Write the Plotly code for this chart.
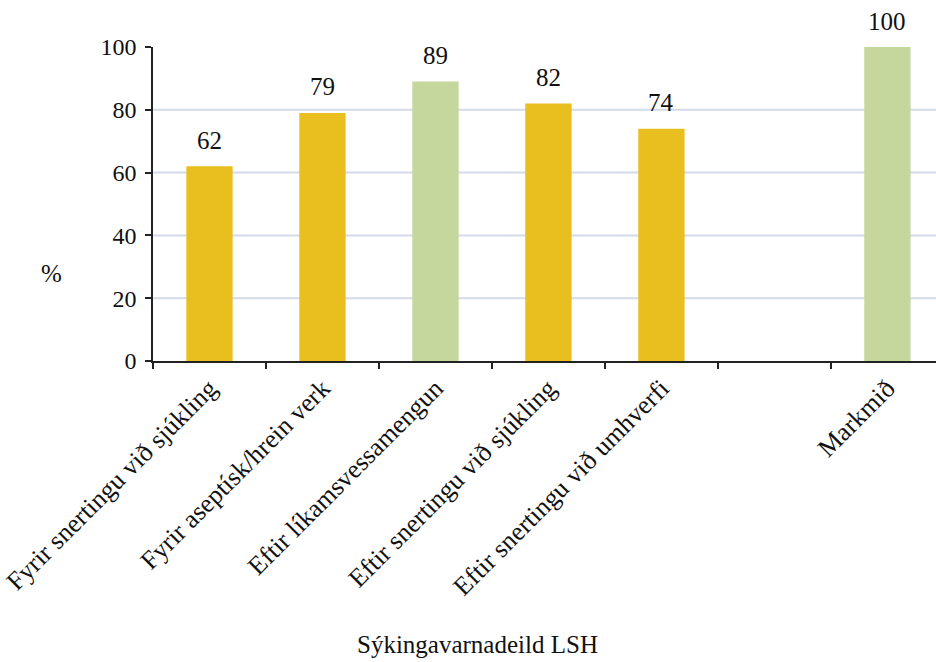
import plotly.graph_objects as go

categories = ["Fyrir snertingu við sjúkling", "Fyrir aseptísk/hrein verk", "Eftir líkamsvessamengun",
              "Eftir snertingu við sjúkling", "Eftir snertingu við umhverfi", " ", "Markmið"]
values = [62, 79, 89, 82, 74, None, 100]
labels = ["62", "79", "89", "82", "74", "", "100"]
colors = ["#E9BE1F", "#E9BE1F", "#C5D79C", "#E9BE1F", "#E9BE1F", "#E9BE1F", "#C5D79C"]
gridlines = [20, 40, 60, 80]

font = "Liberation Serif"
ink = "#111"

fig = go.Figure(go.Bar(
    x=categories, y=values, marker=dict(color=colors, line=dict(width=0)),
    width=0.41, cliponaxis=False,
))

for c, v, t in zip(categories, values, labels):
    if v is None:
        continue
    fig.add_annotation(x=c, y=v, text=t, showarrow=False, yshift=26,
                       xanchor="center", yanchor="middle",
                       font=dict(family=font, size=25, color=ink))

for g in gridlines:
    fig.add_shape(type="line", xref="paper", yref="y", x0=0, x1=1, y0=g, y1=g,
                  line=dict(color="#D3DAE8", width=2), layer="below")

fig.update_layout(
    width=936, height=662, paper_bgcolor="white", plot_bgcolor="white",
    margin=dict(l=153, r=0, t=47, b=301),
    showlegend=False,
    font=dict(family=font, size=22, color=ink),
)
fig.update_xaxes(
    type="category", range=[-0.5, 6.43], tickangle=-45, tickson="boundaries",
    ticks="outside", ticklen=6, tickcolor="#222", tickwidth=1.5,
    showline=True, linecolor="#222", linewidth=1.5, showgrid=False,
    tickfont=dict(family=font, size=26, color=ink),
)
fig.update_yaxes(
    range=[0, 100], tickvals=[0, 20, 40, 60, 80, 100], ticks="outside", ticklen=6,
    tickcolor="#222", tickwidth=1.5, showline=True, linecolor="#222", linewidth=1.5,
    showgrid=False, zeroline=False, ticklabelstandoff=4,
    tickfont=dict(family=font, size=24, color=ink),
)
fig.add_annotation(text="%", xref="paper", yref="paper", x=-0.129, y=0.28,
                   xanchor="center", yanchor="middle",
                   showarrow=False, font=dict(family=font, size=25, color=ink))
fig.add_annotation(text="Sýkingavarnadeild LSH", xref="paper", yref="paper", x=0.415, y=-0.904,
                   xanchor="center", yanchor="middle",
                   showarrow=False, font=dict(family=font, size=25, color=ink))

fig.write_html("out.html")
